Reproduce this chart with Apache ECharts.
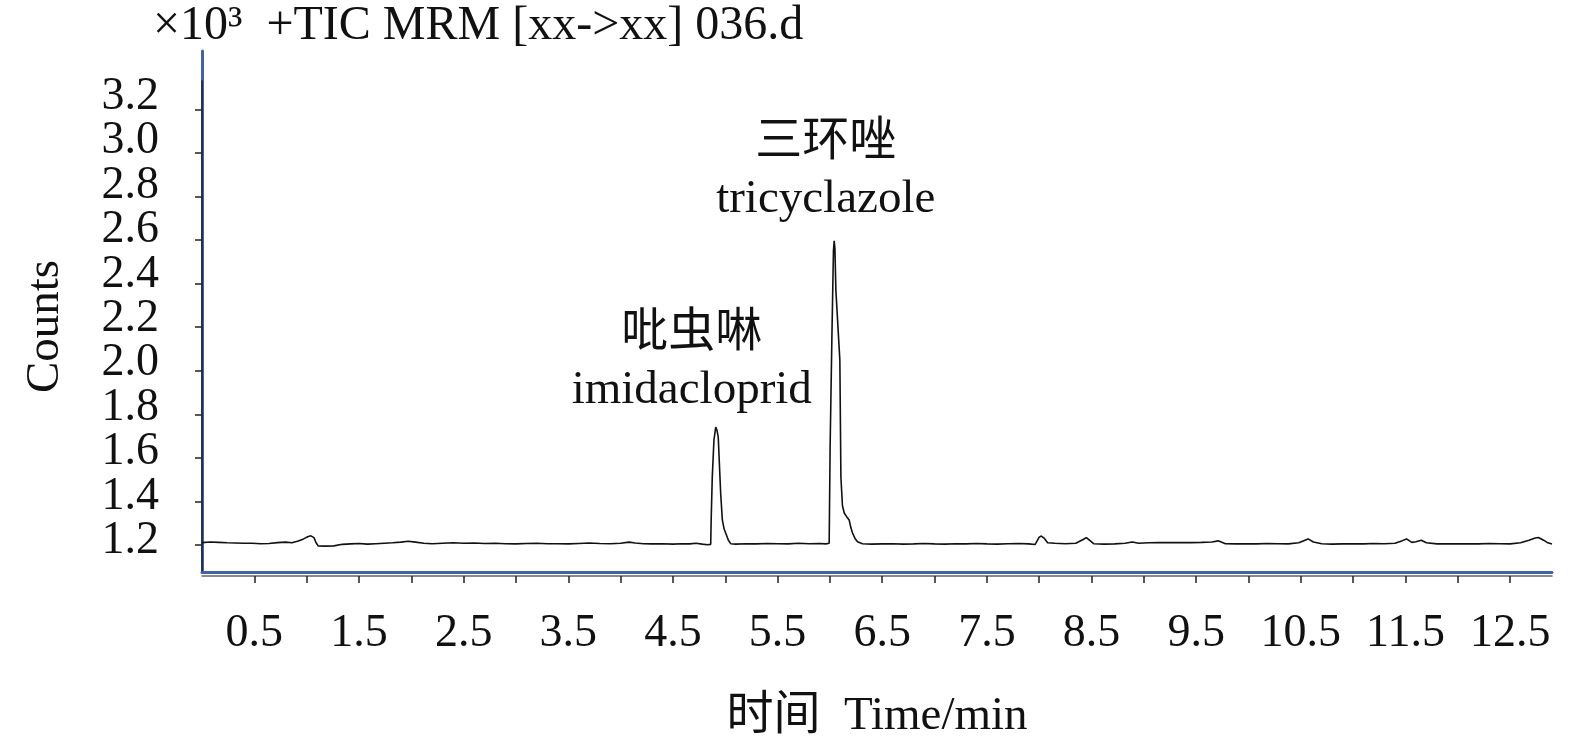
<!DOCTYPE html>
<html>
<head>
<meta charset="utf-8">
<title>TIC MRM</title>
<script src="https://cdn.jsdelivr.net/npm/echarts@6/dist/echarts.min.js"></script>
<style>
  html, body { margin: 0; padding: 0; background: #fff; }
  #chart { width: 1575px; height: 746px; }
</style>
</head>
<body>
<div id="chart"></div>
<script>
  // 保留时间 (min)
  var times = [
    0.00, 0.08, 0.16, 0.24, 0.32, 0.40, 0.48, 0.56, 0.64, 0.72, 0.80, 0.86, 0.92, 0.97, 1.01, 1.04, 1.07, 1.09, 1.11,
    1.18, 1.26, 1.34, 1.42, 1.50, 1.58, 1.66, 1.74, 1.82, 1.90, 1.97, 2.04, 2.12, 2.20, 2.30, 2.40, 2.50, 2.60, 2.70,
    2.80, 2.90, 3.00, 3.10, 3.20, 3.30, 3.40, 3.50, 3.60, 3.70, 3.80, 3.90, 4.00, 4.08, 4.14, 4.22, 4.30, 4.40, 4.50,
    4.58, 4.66, 4.72, 4.78, 4.83, 4.861, 4.866, 4.876, 4.892, 4.909, 4.920, 4.933, 4.956, 4.972, 4.990, 5.004, 5.030,
    5.052, 5.10, 5.20, 5.30, 5.40, 5.50, 5.60, 5.70, 5.80, 5.90, 5.96, 5.993, 6.002, 6.019, 6.034, 6.041, 6.048, 6.057,
    6.095, 6.105, 6.120, 6.137, 6.160, 6.184, 6.200, 6.216, 6.240, 6.264, 6.311, 6.40, 6.50, 6.60, 6.70, 6.80, 6.90,
    7.00, 7.10, 7.20, 7.30, 7.40, 7.50, 7.60, 7.70, 7.80, 7.90, 7.96, 8.00, 8.02, 8.05, 8.08, 8.15, 8.25, 8.35, 8.42,
    8.45, 8.48, 8.52, 8.62, 8.72, 8.82, 8.89, 8.95, 9.05, 9.15, 9.25, 9.35, 9.45, 9.55, 9.65, 9.71, 9.78, 9.88, 9.98,
    10.08, 10.18, 10.28, 10.38, 10.48, 10.54, 10.57, 10.62, 10.70, 10.80, 10.90, 11.00, 11.10, 11.20, 11.30, 11.40,
    11.47, 11.51, 11.56, 11.60, 11.65, 11.70, 11.80, 11.90, 12.00, 12.10, 12.20, 12.30, 12.40, 12.50, 12.60, 12.68,
    12.74, 12.77, 12.82, 12.86, 12.90
  ]
  // 响应值 (×10^3 counts)
  var counts = [
    1.211, 1.214, 1.212, 1.210, 1.209, 1.208, 1.208, 1.206, 1.207, 1.211, 1.213, 1.210, 1.218, 1.228, 1.238, 1.242, 1.234, 1.210, 1.196,
    1.195, 1.196, 1.203, 1.205, 1.207, 1.204, 1.206, 1.208, 1.210, 1.213, 1.217, 1.213, 1.208, 1.206, 1.208, 1.210, 1.208, 1.209, 1.207,
    1.208, 1.206, 1.205, 1.207, 1.208, 1.206, 1.206, 1.205, 1.207, 1.209, 1.207, 1.206, 1.208, 1.213, 1.209, 1.206, 1.205, 1.206, 1.204,
    1.206, 1.205, 1.208, 1.204, 1.201, 1.203, 1.328, 1.512, 1.682, 1.741, 1.728, 1.695, 1.439, 1.315, 1.272, 1.255, 1.222,
    1.206, 1.204, 1.206, 1.205, 1.207, 1.206, 1.205, 1.208, 1.206, 1.207, 1.205, 1.208, 1.650, 2.154, 2.553, 2.596, 2.560, 2.370,
    2.049, 1.512, 1.380, 1.347, 1.330, 1.315, 1.280, 1.255, 1.230, 1.215, 1.206, 1.204, 1.205, 1.206, 1.204, 1.205, 1.207,
    1.205, 1.204, 1.206, 1.205, 1.207, 1.205, 1.204, 1.206, 1.207, 1.205, 1.202, 1.236, 1.241, 1.230, 1.210, 1.208, 1.206, 1.208, 1.225,
    1.234, 1.222, 1.206, 1.204, 1.205, 1.208, 1.214, 1.208, 1.210, 1.211, 1.211, 1.211, 1.211, 1.212, 1.214, 1.219, 1.206, 1.205, 1.206,
    1.205, 1.207, 1.206, 1.205, 1.210, 1.222, 1.228, 1.214, 1.206, 1.204, 1.205, 1.206, 1.205, 1.207, 1.206, 1.208,
    1.220, 1.228, 1.212, 1.215, 1.222, 1.210, 1.205, 1.206, 1.205, 1.206, 1.205, 1.207, 1.206, 1.205, 1.210, 1.222,
    1.232, 1.234, 1.222, 1.210, 1.205
  ]
  var xTicks = [0.5, 1.0, 1.5, 2.0, 2.5, 3.0, 3.5, 4.0, 4.5, 5.0, 5.5, 6.0, 6.5, 7.0, 7.5, 8.0, 8.5, 9.0, 9.5, 10.0, 10.5, 11.0, 11.5, 12.0, 12.5]
  var xLabels = [0.5, 1.5, 2.5, 3.5, 4.5, 5.5, 6.5, 7.5, 8.5, 9.5, 10.5, 11.5, 12.5]
  var yTicks = [1.2, 1.4, 1.6, 1.8, 2.0, 2.2, 2.4, 2.6, 2.8, 3.0, 3.2]
  // 峰标注
  var peakNames = ['吡虫啉\nimidacloprid', '三环唑\ntricyclazole']
  var peakLabelT = [4.68, 5.96]
  var peakLabelV = [2.038, 2.915]

  var FONT = '"Liberation Serif", "Noto Sans CJK SC", serif'
  var lineData = times.map(function (t, i) { return [t, counts[i]] })
  var labelData = peakNames.map(function (n, i) { return { name: n, value: [peakLabelT[i], peakLabelV[i]] } })
  // 标签字号大于刻度间距, 拆成两组避免被自动隐藏
  var yLabelsA = yTicks.filter(function (v, i) { return i % 2 === 0 })
  var yLabelsB = yTicks.filter(function (v, i) { return i % 2 === 1 })

  var chart = echarts.init(document.getElementById('chart'))
  var hidden = { show: false }

  function labelAxis(values) {
    return {
      type: 'value', gridIndex: 2, position: 'left', min: 1.0605, max: 3.2707, offset: 3,
      axisLine: hidden, axisTick: hidden, splitLine: hidden,
      axisLabel: {
        customValues: values, margin: 40,
        showMinLabel: true, showMaxLabel: true, hideOverlap: false,
        fontFamily: FONT, fontSize: 46, color: '#111',
        formatter: function (v) { return v.toFixed(1) }
      }
    }
  }

  var option = {
    animation: false,
    title: {
      text: '×10³  +TIC MRM [xx->xx] 036.d',
      left: 153,
      top: 2,
      padding: 0,
      textStyle: { fontFamily: FONT, fontSize: 48, fontWeight: 'normal', color: '#111' }
    },
    grid: [
      { left: 202, right: 23, top: 51, bottom: 174, outerBoundsMode: 'none' },   // 蓝色边框
      { left: 202, right: 23, top: 81, bottom: 174, outerBoundsMode: 'none' },   // 数据
      { left: 202, right: 23, top: 81, bottom: 174, outerBoundsMode: 'none' }    // y轴刻度文字(原图文字间距略大于刻度间距)
    ],
    xAxis: [
      {
        type: 'value', gridIndex: 0, min: 0, max: 12.9,
        axisLine: { show: true, lineStyle: { color: '#4262a4', width: 3 } },
        axisTick: hidden, axisLabel: hidden, splitLine: hidden
      },
      {
        type: 'value', gridIndex: 1, min: 0, max: 12.9, offset: 4,
        name: '时间  Time/min',
        nameLocation: 'middle',
        nameGap: 117,
        nameMoveOverlap: false,
        nameTextStyle: { fontFamily: FONT, fontSize: 47, color: '#111' },
        axisLine: { show: true, lineStyle: { color: '#666', width: 1.5 } },
        axisTick: { show: true, length: 7, customValues: xTicks, lineStyle: { color: '#222', width: 1.5 } },
        axisLabel: {
          customValues: xLabels, margin: 35, hideOverlap: false,
          fontFamily: FONT, fontSize: 46, color: '#111',
          formatter: function (v) { return v.toFixed(1) }
        },
        splitLine: hidden
      },
      {
        type: 'value', gridIndex: 2, min: 0, max: 12.9, show: false
      }
    ],
    yAxis: [
      {
        type: 'value', gridIndex: 0, min: 0, max: 1,
        axisLine: { show: true, lineStyle: { color: '#4262a4', width: 3 } },
        axisTick: hidden, axisLabel: hidden, splitLine: hidden
      },
      {
        type: 'value', gridIndex: 1, min: 1.076, max: 3.33, offset: 3,
        name: 'Counts',
        nameLocation: 'middle',
        nameGap: 130,
        nameMoveOverlap: false,
        nameTextStyle: { fontFamily: FONT, fontSize: 47, color: '#111' },
        axisLine: { show: true, lineStyle: { color: '#222', width: 1.5 } },
        axisTick: { show: true, length: 7, customValues: yTicks, lineStyle: { color: '#222', width: 1.5 } },
        axisLabel: hidden,
        splitLine: hidden
      },
      labelAxis(yLabelsA),
      labelAxis(yLabelsB)
    ],
    series: [
      {
        type: 'line',
        xAxisIndex: 1,
        yAxisIndex: 1,
        data: lineData,
        showSymbol: false,
        lineStyle: { color: '#111', width: 1.6 }
      },
      {
        type: 'scatter',
        xAxisIndex: 1,
        yAxisIndex: 1,
        data: labelData,
        symbolSize: 0,
        itemStyle: { opacity: 1 },
        label: {
          show: true,
          position: 'inside',
          formatter: '{b}',
          fontFamily: FONT,
          fontSize: 47,
          lineHeight: 57,
          color: '#111'
        }
      }
    ]
  }
  chart.setOption(option)
</script>
</body>
</html>
